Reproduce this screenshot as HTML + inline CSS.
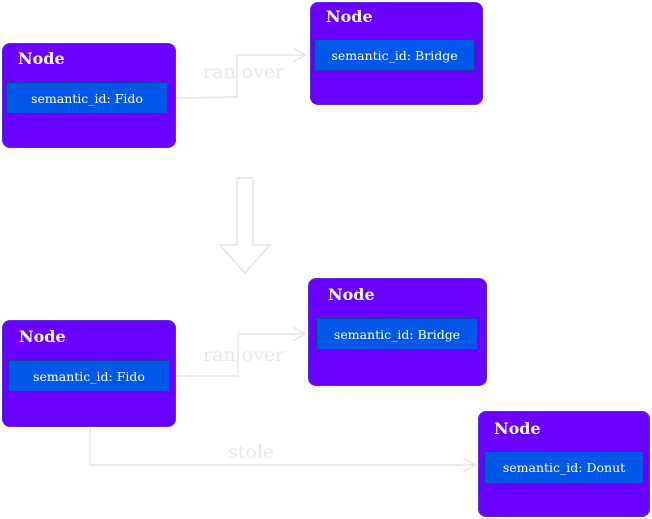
<!DOCTYPE html>
<html><head><meta charset="utf-8"><style>
body{margin:0;width:652px;height:519px;background:#fff;position:relative;overflow:hidden;font-family:"DejaVu Serif","Liberation Serif",serif}
.n{position:absolute;background:#6a00ff;border:1.5px solid #5a2ad8;border-radius:8px;box-sizing:border-box}
.t{position:absolute;color:#fff;font-size:16px;font-weight:bold}
.i{position:absolute;background:#0058e8;border:1.5px solid #1a3aa8;box-sizing:border-box;color:#fff;font-size:12.5px;text-align:center;display:flex;align-items:center;justify-content:center}
.l{position:absolute;color:#e8e8e8;font-size:19px}
</style></head><body>
<svg width="652" height="519" style="position:absolute;left:0;top:0" fill="none" stroke="#e6e6e6" stroke-width="1.5">
<path d="M170 98 L237 97 L237 55 L303 55"/><path d="M293 48 L305 55 L293 62"/>
<path d="M172 376 L238 376 L238 334 L303 334"/><path d="M293 327 L305 334 L293 341"/>
<path d="M90 427 L90 465 L475 465"/><path d="M463 458 L476 465 L463 472"/>
<path d="M237 178 L253 178 L253 245 L270 245 L245 273 L220 245 L237 245 Z"/>
</svg>
<div class="l" style="left:203px;top:61px">ran over</div>
<div class="l" style="left:203px;top:344px">ran over</div>
<div class="l" style="left:228px;top:441px">stole</div>
<div class="n" style="left:2px;top:43px;width:174px;height:105px"></div>
<div class="t" style="left:18px;top:49px">Node</div>
<div class="i" style="left:6px;top:82px;width:162px;height:32px">semantic_id: Fido</div>
<div class="n" style="left:310px;top:2px;width:173px;height:103px"></div>
<div class="t" style="left:326px;top:7px">Node</div>
<div class="i" style="left:314px;top:39px;width:161px;height:32px">semantic_id: Bridge</div>
<div class="n" style="left:2px;top:320px;width:174px;height:107px"></div>
<div class="t" style="left:19px;top:327px">Node</div>
<div class="i" style="left:8px;top:360px;width:162px;height:32px">semantic_id: Fido</div>
<div class="n" style="left:308px;top:278px;width:179px;height:108px"></div>
<div class="t" style="left:328px;top:285px">Node</div>
<div class="i" style="left:316px;top:318px;width:162px;height:32px">semantic_id: Bridge</div>
<div class="n" style="left:478px;top:411px;width:172px;height:106px"></div>
<div class="t" style="left:494px;top:419px">Node</div>
<div class="i" style="left:484px;top:451px;width:160px;height:33px">semantic_id: Donut</div>
</body></html>
